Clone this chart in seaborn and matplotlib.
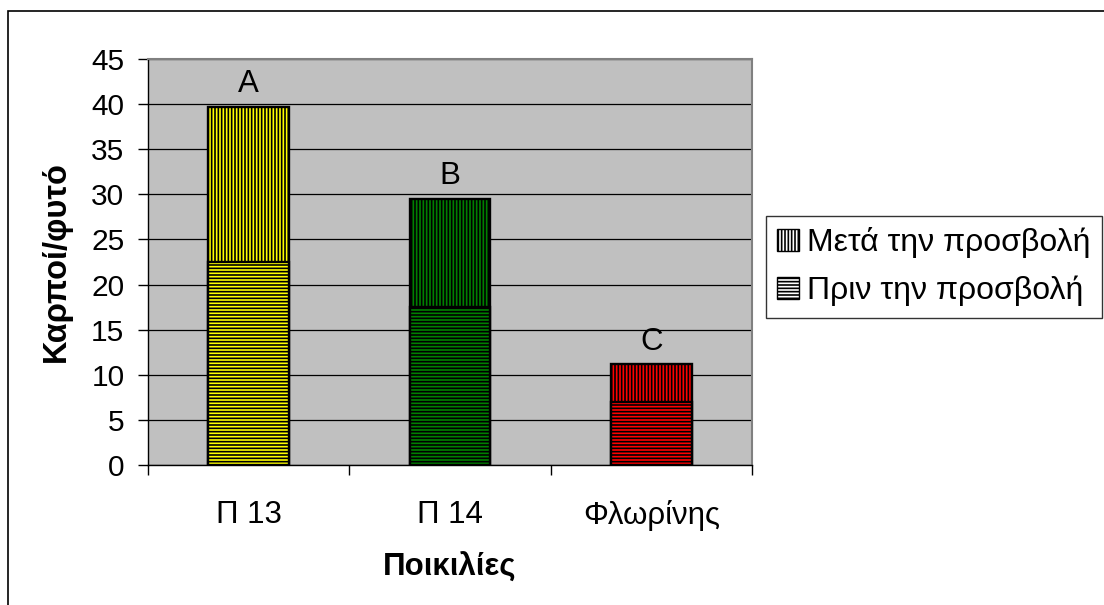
import numpy as np
import pandas as pd
import matplotlib
matplotlib.use('Agg')
import matplotlib.pyplot as plt
import seaborn as sns
from matplotlib.patches import Patch, Rectangle

# Данные
varieties = ['Π 13', 'Π 14', 'Φλωρίνης']
before = [22.5, 17.5, 7.0]     # Πριν την προσβολή
after = [17.2, 12.0, 4.2]      # Μετά την προσβολή (верхняя часть столбца)
letters = ['A', 'B', 'C']
bar_colors = ['#FFFF00', '#008000', '#FF0000']
y_ticks = [0, 5, 10, 15, 20, 25, 30, 35, 40, 45]

plt.rcParams['font.family'] = ['Liberation Sans', 'DejaVu Sans']
plt.rcParams['hatch.linewidth'] = 1.2

df = pd.DataFrame({'variety': varieties, 'before': before, 'after': after})
df['total'] = df['before'] + df['after']

fig = plt.figure(figsize=(11.04, 6.05), dpi=100)
ax = fig.add_axes([148 / 1104, 1 - 465 / 605, 604 / 1104, 406 / 605])
ax.set_facecolor('#C0C0C0')

# верхняя часть (общая высота) и нижняя часть поверх неё
sns.barplot(df, x='variety', y='total', hue='variety', palette=bar_colors, width=0.4,
            saturation=1, legend=False, edgecolor='black', linewidth=1.7, ax=ax)
sns.barplot(df, x='variety', y='before', hue='variety', palette=bar_colors, width=0.4,
            saturation=1, legend=False, edgecolor='black', linewidth=1.7, ax=ax)
n = len(varieties)
for i, bar in enumerate(ax.patches):
    bar.set_hatch('|||||' if i < n else '-----')

for i, (tot, let) in enumerate(zip(df['total'], letters)):
    ax.text(i, tot + 1.6, let, ha='center', va='baseline', fontsize=22.5)

ax.set_ylim(0, 45)
ax.set_xlim(-0.5, n - 0.5)
ax.set_yticks(y_ticks)
ax.yaxis.grid(True, color='black', linewidth=0.9)
ax.set_axisbelow(True)

ax.tick_params(axis='y', labelsize=21.5, direction='out', length=7, width=1, pad=10)
ax.tick_params(axis='x', which='major', labelsize=22.5, length=0, pad=25)
ax.set_xticks(np.arange(-0.5, n), minor=True)
ax.tick_params(axis='x', which='minor', direction='out', length=7, width=1)

ax.set_xlabel('Ποικιλίες', fontsize=22.5, fontweight='bold', labelpad=16)
ax.set_ylabel('Καρποί/φυτό', fontsize=23.5, fontweight='bold', labelpad=14)

for side in ['left', 'bottom']:
    ax.spines[side].set_color('black')
    ax.spines[side].set_linewidth(1.0)
for side in ['top', 'right']:
    ax.spines[side].set_color('#808080')
    ax.spines[side].set_linewidth(1.5)

handles = [Patch(facecolor='white', edgecolor='black', hatch='|||||', label='Μετά την προσβολή'),
           Patch(facecolor='white', edgecolor='black', hatch='-----', label='Πριν την προσβολή')]
leg = ax.legend(handles=handles, loc='upper left', bbox_to_anchor=(1.023, 0.613),
                borderaxespad=0, fontsize=23, frameon=True, fancybox=False,
                handlelength=0.69, handleheight=0.69, handletextpad=0.25,
                borderpad=0.35, labelspacing=0.55)
leg.get_frame().set_edgecolor('black')
leg.get_frame().set_linewidth(1.0)

# рамка вокруг всей диаграммы
fig.patches.append(Rectangle((8 / 1104, -0.2), 2, 1 - 11 / 605 + 0.2, transform=fig.transFigure,
                             fill=False, edgecolor='black', linewidth=1.2))

fig.savefig('out.png', dpi=100)
